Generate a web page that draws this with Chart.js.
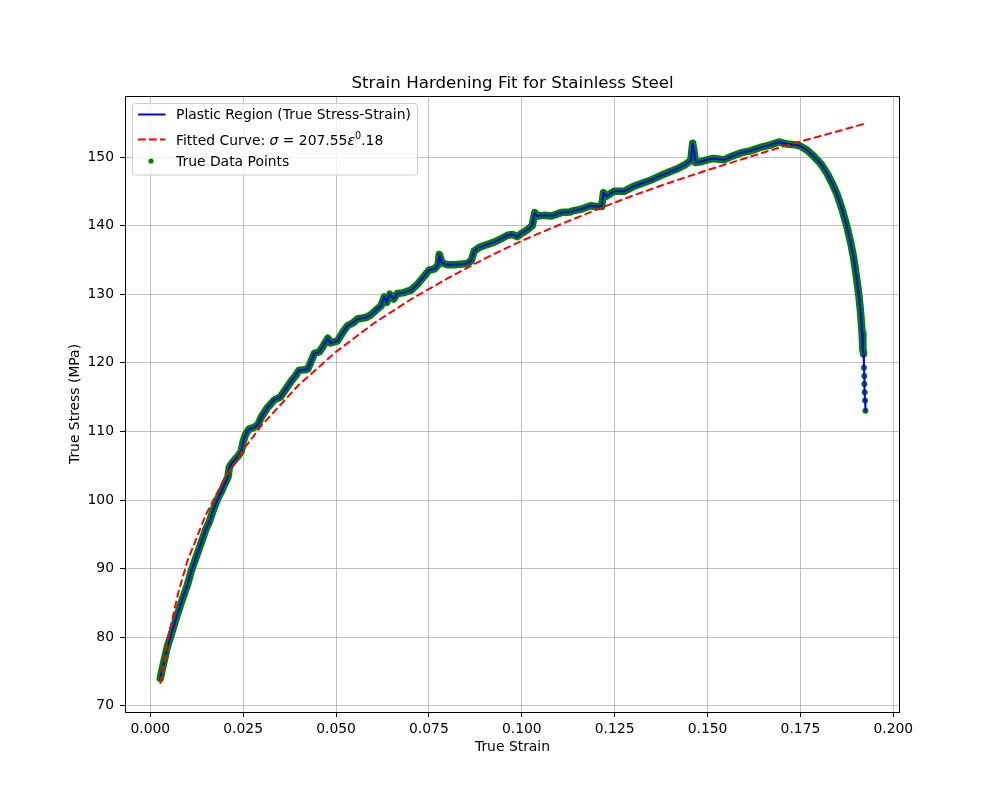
<!DOCTYPE html>
<html>
<head>
<meta charset="utf-8">
<title>Strain Hardening Fit for Stainless Steel</title>
<script src="https://cdn.jsdelivr.net/npm/chart.js@4.4.1/dist/chart.umd.min.js"></script>
<style>
  html, body { margin: 0; padding: 0; background: #fff; }
  canvas { display: block; }
</style>
</head>
<body>
<canvas id="chart" width="1000" height="800"></canvas>
<script>
const strain = [
  0.0027, 0.0035, 0.0045, 0.0057, 0.0070, 0.0085, 0.0100, 0.0110, 0.0125, 0.0140,
  0.0150, 0.0158, 0.0162, 0.0170, 0.0180, 0.0186, 0.0192, 0.0200, 0.0209, 0.0213,
  0.0220, 0.0228, 0.0236, 0.0245, 0.0250, 0.0256, 0.0265, 0.0280, 0.0290, 0.0300,
  0.0316, 0.0334, 0.0350, 0.0365, 0.0379, 0.0392, 0.0400, 0.0415, 0.0424, 0.0435,
  0.0442, 0.0455, 0.0465, 0.0478, 0.0485, 0.0504, 0.0520, 0.0531, 0.0545, 0.0558,
  0.0580, 0.0594, 0.0610, 0.0621, 0.0630, 0.0636, 0.0645, 0.0655, 0.0665, 0.0680,
  0.0702, 0.0720, 0.0737, 0.0750, 0.0765, 0.0775, 0.0778, 0.0785, 0.0800, 0.0818,
  0.0840, 0.0854, 0.0864, 0.0872, 0.0885, 0.0899, 0.0926, 0.0945, 0.0962, 0.0975,
  0.0988, 0.1000, 0.1015, 0.1028, 0.1035, 0.1042, 0.1060, 0.1080, 0.1105, 0.1130,
  0.1141, 0.1160, 0.1185, 0.1200, 0.1215, 0.1220, 0.1228, 0.1248, 0.1275, 0.1300,
  0.1320, 0.1350, 0.1374, 0.1400, 0.1419, 0.1440, 0.1455, 0.1460, 0.1464, 0.1468,
  0.1480, 0.1499, 0.1515, 0.1544, 0.1560, 0.1589, 0.1615, 0.1642, 0.1665, 0.1692,
  0.1714, 0.1735, 0.1750, 0.1768, 0.1786, 0.1805, 0.1822, 0.1836, 0.1849, 0.1862,
  0.1875, 0.1885, 0.1893, 0.1900, 0.1907, 0.1912, 0.1916, 0.1918, 0.1920, 0.1921,
  0.1922, 0.1922, 0.1923, 0.1924, 0.1925
];
const stress = [
  74.0, 76.0, 78.4, 80.5, 82.8, 85.3, 87.6, 89.6, 91.9, 94.2,
  95.8, 96.7, 97.3, 98.6, 100.0, 100.7, 101.3, 102.3, 103.3, 104.8,
  105.4, 105.9, 106.4, 107.1, 108.5, 109.5, 110.3, 110.6, 111.0, 112.2,
  113.5, 114.6, 115.0, 116.2, 117.3, 118.2, 118.9, 119.0, 119.1, 120.5,
  121.4, 121.6, 122.4, 123.6, 122.9, 123.2, 124.6, 125.4, 125.8, 126.4,
  126.6, 127.0, 127.8, 128.3, 129.6, 128.8, 130.0, 129.3, 130.1, 130.2,
  130.6, 131.5, 132.6, 133.5, 133.7, 134.3, 135.8, 134.6, 134.3, 134.3,
  134.4, 134.5, 134.9, 136.3, 136.8, 137.1, 137.6, 138.1, 138.6, 138.7,
  138.4, 138.9, 139.4, 140.0, 141.9, 141.4, 141.5, 141.4, 141.9, 142.0,
  142.2, 142.4, 142.9, 142.8, 142.8, 144.8, 144.3, 145.0, 145.0, 145.7,
  146.1, 146.7, 147.3, 147.9, 148.3, 148.9, 149.5, 152.0, 150.6, 149.2,
  149.3, 149.6, 149.8, 149.6, 150.0, 150.6, 150.9, 151.4, 151.7, 152.2,
  151.9, 151.8, 151.6, 151.0, 150.1, 149.0, 147.6, 146.1, 144.5, 142.4,
  139.9, 137.6, 135.4, 132.8, 130.0, 127.3, 124.3, 122.0, 121.3, 119.3,
  118.1, 116.9, 115.7, 114.5, 113.0
];
// from this sample on the recorded points are sparse (separate dots)
const sparseFrom = 138;

// fitted power-law curve
const fitStrain = [
  0.0027, 0.005, 0.0075, 0.010, 0.015, 0.020, 0.025, 0.030, 0.040, 0.050,
  0.060, 0.070, 0.080, 0.090, 0.100, 0.110, 0.120, 0.130, 0.140, 0.150,
  0.160, 0.170, 0.180, 0.190, 0.1925
];
const fitStress = [
  73.2, 80.3, 86.4, 91.1, 97.9, 103.1, 107.3, 110.9, 116.8, 121.6,
  125.7, 129.2, 132.3, 135.2, 137.8, 140.1, 142.3, 144.4, 146.3, 148.1,
  149.8, 151.5, 153.0, 154.5, 154.9
];

const xTicks = [0.000, 0.025, 0.050, 0.075, 0.100, 0.125, 0.150, 0.175, 0.200];
const yTicks = [70, 80, 90, 100, 110, 120, 130, 140, 150];

const FONT = "'DejaVu Sans', 'Liberation Sans', sans-serif";
const toPts = (xs, ys) => xs.map((x, i) => ({ x: x, y: ys[i] }));

// title, full frame and legend, matplotlib style
const decorations = {
  id: 'decorations',
  afterDraw(chart) {
    const ctx = chart.ctx;
    const a = chart.chartArea;
    ctx.save();

    ctx.strokeStyle = '#000';
    ctx.lineWidth = 1;
    ctx.strokeRect(Math.round(a.left) + 0.5, Math.round(a.top) + 0.5,
      Math.round(a.right - a.left) - 1, Math.round(a.bottom - a.top));

    ctx.fillStyle = '#000';
    ctx.font = '16.7px ' + FONT;
    ctx.textAlign = 'center';
    ctx.textBaseline = 'alphabetic';
    ctx.fillText('Strain Hardening Fit for Stainless Steel', (a.left + a.right) / 2, 88);

    // legend box
    const bx = 132.5, by = 103.5, bw = 285, bh = 71.5, r = 3;
    ctx.beginPath();
    ctx.moveTo(bx + r, by);
    ctx.arcTo(bx + bw, by, bx + bw, by + bh, r);
    ctx.arcTo(bx + bw, by + bh, bx, by + bh, r);
    ctx.arcTo(bx, by + bh, bx, by, r);
    ctx.arcTo(bx, by, bx + bw, by, r);
    ctx.closePath();
    ctx.fillStyle = 'rgba(255,255,255,0.8)';
    ctx.fill();
    ctx.strokeStyle = '#cccccc';
    ctx.lineWidth = 1;
    ctx.stroke();

    ctx.lineWidth = 2;
    ctx.strokeStyle = '#0000ff';
    ctx.beginPath(); ctx.moveTo(138, 114.5); ctx.lineTo(165.5, 114.5); ctx.stroke();
    ctx.strokeStyle = '#ff0000';
    ctx.setLineDash([7.7, 3.3]);
    ctx.beginPath(); ctx.moveTo(138, 139.5); ctx.lineTo(165.5, 139.5); ctx.stroke();
    ctx.setLineDash([]);
    ctx.fillStyle = '#008000';
    ctx.beginPath(); ctx.arc(151, 161, 2.6, 0, Math.PI * 2); ctx.fill();

    ctx.fillStyle = '#000';
    ctx.textAlign = 'left';
    ctx.font = '13.9px ' + FONT;
    ctx.fillText('Plastic Region (True Stress-Strain)', 176, 119);
    ctx.fillText('True Data Points', 176, 166);

    let tx = 176;
    const y2 = 144.5;
    const seg = (txt, font, dy) => {
      ctx.font = font;
      ctx.fillText(txt, tx, y2 + (dy || 0));
      tx += ctx.measureText(txt).width;
    };
    seg('Fitted Curve: ', '13.9px ' + FONT);
    seg('\u03c3', 'italic 13.9px ' + FONT);
    seg(' = 207.55', '13.9px ' + FONT);
    seg('\u03b5', 'italic 13.9px ' + FONT);
    seg('0', '9.7px ' + FONT, -6);
    seg('.18', '13.9px ' + FONT);

    ctx.restore();
  }
};

const gridOpts = {
  color: '#b0b0b0',
  lineWidth: 0.8,
  drawTicks: true,
  tickLength: 5,
  tickColor: '#000',
  tickWidth: 1
};

new Chart(document.getElementById('chart'), {
  type: 'scatter',
  data: {
    datasets: [
      {
        label: 'Fitted Curve: \u03c3 = 207.55\u03b5^0.18',
        data: toPts(fitStrain, fitStress),
        showLine: true,
        borderColor: '#ff0000',
        borderWidth: 2,
        borderDash: [7.7, 3.3],
        pointRadius: 0,
        tension: 0
      },
      {
        label: 'Plastic Region (True Stress-Strain)',
        data: toPts(strain, stress),
        showLine: true,
        borderColor: '#0000ff',
        borderWidth: 2,
        borderJoinStyle: 'round',
        pointRadius: 0,
        tension: 0
      },
      {
        label: 'True Data Points',
        data: toPts(strain, stress),
        showLine: true,
        borderColor: '#008000',
        borderWidth: 7.5,
        borderJoinStyle: 'round',
        borderCapStyle: 'round',
        segment: {
          borderColor: c => c.p0DataIndex >= sparseFrom ? 'rgba(0,128,0,0)' : '#008000'
        },
        backgroundColor: '#008000',
        pointBackgroundColor: '#008000',
        pointBorderWidth: 0,
        pointRadius: 3,
        tension: 0
      }
    ]
  },
  options: {
    responsive: false,
    animation: false,
    devicePixelRatio: 1,
    layout: { padding: { top: 96, right: 100, left: 0, bottom: 0 } },
    plugins: {
      legend: { display: false },
      title: { display: false },
      tooltip: { enabled: false }
    },
    scales: {
      x: {
        type: 'linear',
        min: -0.0068,
        max: 0.2018,
        afterFit(scale) { scale.height = 88; },
        afterBuildTicks(scale) { scale.ticks = xTicks.map(v => ({ value: v })); },
        grid: gridOpts,
        border: { display: false },
        ticks: {
          color: '#000',
          padding: 4,
          maxRotation: 0,
          autoSkip: false,
          font: { family: FONT, size: 13.9 },
          callback: v => v.toFixed(3)
        },
        title: {
          display: true,
          text: 'True Strain',
          color: '#000',
          font: { family: FONT, size: 13.9 },
          padding: { top: 0, bottom: 44 }
        }
      },
      y: {
        type: 'linear',
        min: 69.1,
        max: 158.9,
        afterFit(scale) { scale.width = 125; },
        afterBuildTicks(scale) { scale.ticks = yTicks.map(v => ({ value: v })); },
        grid: gridOpts,
        border: { display: false },
        ticks: {
          color: '#000',
          padding: 6,
          autoSkip: false,
          font: { family: FONT, size: 13.9 },
          callback: v => String(v)
        },
        title: {
          display: true,
          text: 'True Stress (MPa)',
          color: '#000',
          font: { family: FONT, size: 13.9 },
          padding: { top: 67, bottom: 0 }
        }
      }
    }
  },
  plugins: [decorations]
});
</script>
</body>
</html>
